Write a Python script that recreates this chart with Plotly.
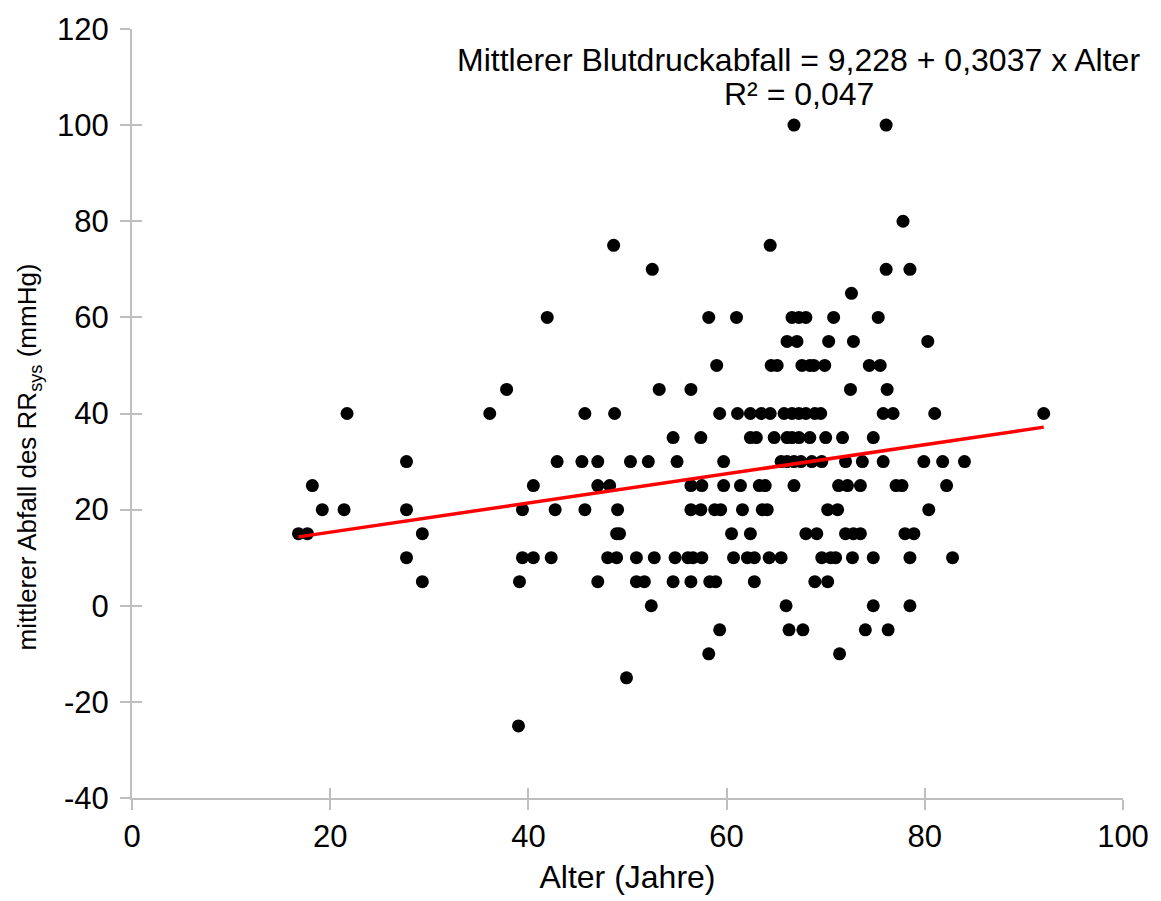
import plotly.graph_objects as go

# Alter (Jahre) and mittlerer Abfall des systolischen Blutdrucks (mmHg) per patient
alter = [
    16.8, 17.7, 18.2, 19.2, 21.4, 21.7,
    27.7, 27.7, 27.7, 29.3, 29.3,
    36.1, 37.8,
    39.0, 39.1, 39.4, 39.4, 40.5, 40.5, 41.9, 42.3, 42.7, 42.9,
    45.4, 45.7, 45.7, 47.0, 47.0, 47.0, 48.2, 48.0, 48.9, 48.6, 48.7, 49.0, 48.9, 49.2,
    49.9, 50.3, 50.9, 50.9, 51.7, 52.1, 52.4, 52.5, 52.7, 53.2, 54.6, 54.6, 54.8, 55.0,
    56.1, 56.4, 56.4, 56.4, 56.4, 56.6, 57.4, 57.5, 57.4, 57.5, 58.2, 58.2, 58.3, 58.8,
    58.9, 59.0, 59.3, 59.4, 59.3, 59.7, 59.7, 60.5, 60.7, 61.0, 61.1, 61.4, 61.6,
    62.1, 62.4, 62.4, 62.4, 62.8, 62.8, 63.0, 63.3, 63.5, 63.6, 63.9, 64.1, 64.3, 64.4,
    64.4, 64.5, 64.8, 65.1, 65.5, 65.5,
    65.8, 66.0, 66.1, 66.1, 66.1, 66.3, 66.6, 66.6, 66.6, 66.8, 66.8, 66.8, 67.1, 67.3,
    67.3, 67.3, 67.5, 67.6, 67.7, 68.0, 68.0, 68.0, 68.4, 68.4, 68.6, 68.8, 68.9, 68.9,
    69.1, 69.5, 69.6, 69.6, 69.9,
    70.0, 70.2, 70.2, 70.3, 70.5, 70.8, 71.0, 71.2, 71.3, 71.4, 71.7, 72.0, 72.0, 72.2,
    72.5, 72.6, 72.7, 72.8, 72.8, 73.5, 73.5, 73.7, 74.0, 74.4, 74.8, 74.8, 74.8, 75.3,
    75.5, 75.8, 75.8, 76.1, 76.1, 76.2, 76.3, 76.8, 77.1, 77.7, 77.8, 78.0, 78.5, 78.5,
    78.5, 78.9, 79.9, 80.3, 80.4, 81.0, 81.8, 82.2, 82.8, 84.0, 92.0,
]
abfall = [
    15, 15, 25, 20, 20, 40,
    30, 20, 10, 15, 5,
    40, 45,
    -25, 5, 10, 20, 10, 25, 60, 10, 20, 30,
    30, 40, 20, 30, 25, 5, 25, 10, 10, 75, 40, 20, 15, 15,
    -15, 30, 10, 5, 5, 30, 0, 70, 10, 45, 35, 5, 10, 30,
    10, 45, 25, 20, 5, 10, 35, 25, 20, 10, 60, -10, 5, 20,
    5, 50, 40, 20, -5, 30, 25, 15, 10, 60, 40, 25, 20,
    10, 40, 35, 15, 10, 5, 35, 25, 40, 20, 25, 20, 10, 40,
    75, 50, 35, 50, 10, 30,
    40, 0, 55, 35, 30, -5, 60, 40, 35, 100, 30, 25, 55, 60,
    40, 35, 30, 50, -5, 60, 40, 15, 50, 35, 30, 50, 40, 5,
    15, 40, 30, 10, 50,
    35, 20, 5, 55, 10, 60, 10, 20, 25, -10, 35, 30, 15, 25,
    45, 65, 10, 55, 15, 25, 15, 30, -5, 50, 35, 10, 0, 60,
    50, 30, 40, 100, 70, 45, -5, 40, 25, 25, 80, 15, 70, 10,
    0, 15, 30, 55, 20, 40, 30, 25, 10, 30, 40,
]

# Linear regression as stated in the chart annotation
intercept = 9.228
slope = 0.3037
r_squared = 0.047

x_ticks = [0, 20, 40, 60, 80, 100]
y_ticks = [-40, -20, 0, 20, 40, 60, 80, 100, 120]

FONT = "Liberation Sans, Arial, sans-serif"
AXIS_GREY = "#bfbfbf"
TXT = "#000000"

fit_x = [min(alter), max(alter)]
fit_y = [intercept + slope * v for v in fit_x]

fig = go.Figure()
fig.add_trace(go.Scatter(
    x=alter, y=abfall, mode="markers",
    marker=dict(size=13, color="#000000", line=dict(width=0)),
    showlegend=False, hoverinfo="x+y",
))
fig.add_trace(go.Scatter(
    x=fit_x, y=fit_y, mode="lines",
    line=dict(color="#ff0000", width=3.5),
    showlegend=False, hoverinfo="skip",
))
# helper trace so the overlaid tick axes get rendered
fig.add_trace(go.Scatter(
    x=[None], y=[None], xaxis="x2", yaxis="y2",
    mode="markers", showlegend=False, hoverinfo="skip",
))

eq_text = (f"Mittlerer Blutdruckabfall = {str(intercept).replace('.', ',')} + "
           f"{str(slope).replace('.', ',')} x Alter")
r2_text = f"R² = {str(r_squared).replace('.', ',')}"

common_axis = dict(showgrid=False, zeroline=False)

fig.update_layout(
    width=1161, height=901,
    margin=dict(l=132, r=34, t=25, b=102),
    paper_bgcolor="white", plot_bgcolor="white",
    font=dict(family=FONT, size=31, color=TXT),
    xaxis=dict(
        range=[0, 100], tickvals=x_ticks, ticktext=[str(v) for v in x_ticks],
        showline=True, linecolor=AXIS_GREY, linewidth=2,
        ticks="outside", ticklen=10, tickwidth=2, tickcolor=AXIS_GREY,
        tickfont=dict(size=31, color=TXT),
        title=dict(text="Alter (Jahre)", font=dict(size=32, color=TXT), standoff=12),
        **common_axis,
    ),
    yaxis=dict(
        range=[-40, 120], tickvals=y_ticks, ticktext=[str(v) for v in y_ticks],
        showline=True, linecolor=AXIS_GREY, linewidth=2,
        ticks="outside", ticklen=10, tickwidth=2, tickcolor=AXIS_GREY,
        tickfont=dict(size=31, color=TXT), ticklabelstandoff=5,
        **common_axis,
    ),
    xaxis2=dict(
        range=[0, 100], tickvals=x_ticks, overlaying="x", anchor="y2",
        showline=False, ticks="inside", ticklen=10, tickwidth=2,
        tickcolor=AXIS_GREY, showticklabels=False, **common_axis,
    ),
    yaxis2=dict(
        range=[-40, 120], tickvals=y_ticks, overlaying="y", anchor="x2",
        showline=False, ticks="inside", ticklen=10, tickwidth=2,
        tickcolor=AXIS_GREY, showticklabels=False, **common_axis,
    ),
    annotations=[
        # y-axis title, set slightly below the vertical centre of the plot
        dict(text="mittlerer Abfall des RR<sub>sys</sub> (mmHg)",
             xref="paper", yref="paper", x=-0.104, y=0.444,
             xanchor="center", yanchor="middle", textangle=-90,
             showarrow=False, font=dict(size=26, color=TXT)),
        dict(text=eq_text, xref="paper", yref="paper", x=0.673, y=0.960,
             xanchor="center", yanchor="middle", showarrow=False,
             font=dict(size=32, color=TXT)),
        dict(text=r2_text, xref="paper", yref="paper", x=0.673, y=0.915,
             xanchor="center", yanchor="middle", showarrow=False,
             font=dict(size=32, color=TXT)),
    ],
)

fig.write_html("out.html")
